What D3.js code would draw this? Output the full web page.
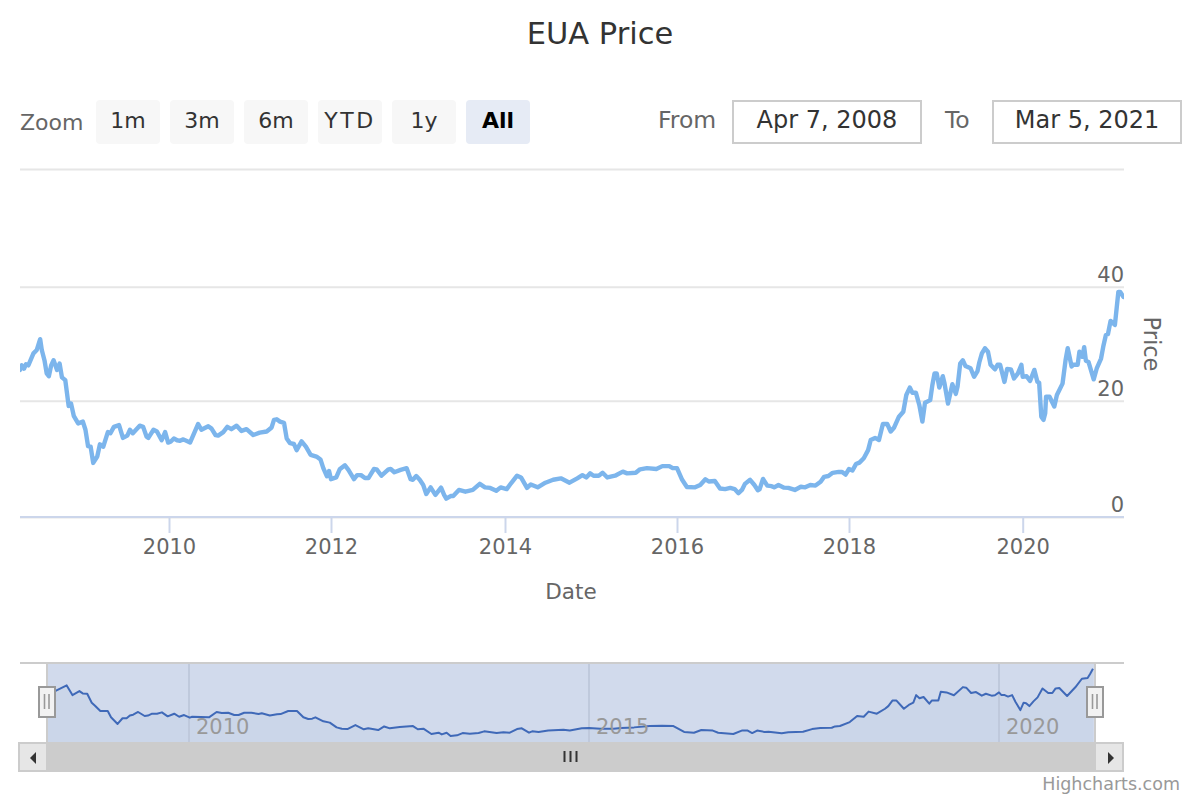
<!DOCTYPE html>
<html>
<head>
<meta charset="utf-8">
<script src="https://d3js.org/d3.v7.min.js"></script>
<style>
  html, body { margin: 0; background: #fff; }
  svg { display: block; font-family: "DejaVu Sans", sans-serif; }
</style>
</head>
<body>
<svg id="chart" width="1200" height="800"></svg>
<script>
// main series, dates as decimal years
var years = [2008.27,2008.29,2008.316,2008.34,2008.367,2008.426,2008.465,2008.504,2008.523,2008.554,2008.58,2008.605,2008.632,2008.66,2008.70,2008.73,2008.757,2008.796,2008.835,2008.863,2008.894,2008.945,2009.0,2009.03,2009.06,2009.09,2009.12,2009.167,2009.198,2009.237,2009.29,2009.32,2009.36,2009.42,2009.465,2009.516,2009.547,2009.58,2009.66,2009.70,2009.74,2009.76,2009.82,2009.86,2009.915,2009.955,2009.99,
  2010.02,2010.06,2010.10,2010.136,2010.177,2010.26,2010.36,2010.40,2010.485,2010.525,2010.574,2010.607,2010.67,2010.72,2010.77,2010.835,2010.895,2010.957,2011.04,2011.12,2011.206,2011.267,2011.296,2011.33,2011.37,2011.42,2011.453,2011.494,2011.543,2011.576,2011.637,2011.69,2011.749,2011.82,2011.87,2011.905,2011.95,2011.976,
  2012.0,2012.06,2012.10,2012.16,2012.2,2012.264,2012.30,2012.345,2012.39,2012.43,2012.494,2012.525,2012.58,2012.66,2012.686,2012.728,2012.80,2012.87,2012.915,2012.94,2012.98,2013.02,2013.06,2013.095,2013.145,2013.20,2013.265,2013.30,2013.325,2013.375,2013.405,2013.47,2013.545,2013.63,2013.71,2013.77,2013.83,2013.90,2013.95,
  2014.02,2014.07,2014.14,2014.186,2014.256,2014.30,2014.38,2014.47,2014.56,2014.65,2014.75,2014.84,2014.90,2014.945,2014.99,2015.03,2015.09,2015.135,2015.19,2015.28,2015.37,2015.42,2015.52,2015.57,2015.65,2015.76,2015.83,2015.91,2015.95,
  2016.0,2016.06,2016.115,2016.21,2016.27,2016.33,2016.37,2016.44,2016.50,2016.56,2016.62,2016.67,2016.715,2016.755,2016.79,2016.85,2016.90,2016.94,2016.96,2017.0,2017.05,2017.10,2017.13,2017.18,2017.245,2017.295,2017.37,2017.44,2017.49,2017.55,2017.61,2017.67,2017.71,2017.76,2017.81,2017.88,2017.92,2017.96,
  2018.0,2018.04,2018.08,2018.12,2018.17,2018.22,2018.25,2018.30,2018.345,2018.39,2018.44,2018.48,2018.52,2018.575,2018.625,2018.66,2018.70,2018.73,2018.77,2018.81,2018.845,2018.875,2018.935,2018.96,2018.985,2019.01,2019.04,2019.08,2019.10,2019.14,2019.19,2019.23,2019.25,2019.28,2019.31,2019.34,2019.40,2019.44,2019.48,2019.50,2019.53,2019.565,2019.60,2019.63,2019.68,2019.71,2019.74,2019.79,2019.82,2019.865,2019.90,2019.945,2019.985,
  2020.0,2020.045,2020.085,2020.135,2020.17,2020.19,2020.215,2020.24,2020.26,2020.27,2020.31,2020.365,2020.395,2020.46,2020.495,2020.52,2020.565,2020.585,2020.635,2020.655,2020.69,2020.71,2020.73,2020.76,2020.82,2020.855,2020.905,2020.93,2020.96,2020.985,2021.015,2021.065,2021.105,2021.125,2021.165];
var prices = [25.4,26.2,25.6,26.4,26.2,28.3,28.9,30.8,28.9,27.1,24.8,24.3,26.2,27.1,25.4,26.5,24.1,23.6,19.1,19.5,17.4,16.1,16.4,15,12.2,12.1,9.3,10.4,12.5,12.1,14.6,14.4,15.5,15.8,13.6,14,15,14.4,15.7,15.5,13.8,13.6,15,14.7,13.2,14.6,12.8,
  12.95,13.5,13.2,13.1,13.35,12.8,16,15,15.6,15.2,14.1,14,14.6,15.5,15.1,15.7,14.8,15.1,14.1,14.5,14.7,15.4,16.7,16.8,16.4,16.2,13.5,12.7,12.55,11.5,13,12.1,10.7,10.4,9.9,8.4,7,7.9,
  6.5,6.8,8.2,8.9,8.1,6.5,7.2,7.2,6.7,6.7,8.25,8.2,7.1,8.2,8.25,7.7,8.1,8.4,6.5,6.4,7.05,6.4,5.5,3.95,5.1,3.8,5.05,3.8,3.15,3.6,3.6,4.65,4.35,4.65,5.7,5.1,5,4.5,5.1,
  4.8,5.8,7.1,6.8,5,5.6,5.1,5.9,6.4,6.65,5.9,6.65,7.2,6.8,7.5,7.1,7.1,7.6,6.8,7.1,7.8,7.5,7.6,8.2,8.4,8.25,8.75,8.75,8.4,
  8.4,6.4,5.15,5.1,5.5,6.5,6.1,6.2,4.9,4.8,5,4.8,4.1,4.65,5.7,6.4,5.5,4.6,4.75,6.55,5.4,5.3,5.1,5.5,5.05,5,4.65,5.2,5.1,5.5,5.4,6.05,6.9,7.05,7.6,7.75,7.75,7.3,
  8.25,8,9.1,9.35,10.1,11.5,13.25,13.6,13.25,16,16,14.7,15.4,17.25,18.1,21,22.3,21.4,21.4,19.25,16.4,19.65,20.1,22.75,24.8,24.8,22.3,24.3,23,19.5,22.9,21.2,22.5,26.5,27.1,26.1,25.7,24.2,25.2,26.7,28.3,29.2,28.6,26.3,25.5,26.3,26.3,23.3,25.55,25.5,23.9,24.8,26.3,
  24.2,24.3,23.45,25.4,23.3,23.15,17.25,16.7,17.85,20.7,20.7,19,21,23,27.1,29.2,26,26.3,26.3,28.6,27.7,29.4,27,26.8,23.75,25.65,27.4,29.45,31.5,31.7,34,33.3,39.1,39.1,38.2];

// navigator series is the grouped (smoother) version
var navYears = [2008.27,2008.38,2008.51,2008.58,2008.665,2008.705,2008.76,2008.815,2008.855,2008.92,2009.01,2009.05,2009.13,2009.19,2009.24,2009.28,2009.32,2009.38,2009.46,2009.50,2009.55,2009.61,2009.67,2009.74,2009.82,2009.88,2009.94,2010.01,2010.04,2010.25,2010.345,2010.41,2010.49,2010.565,2010.62,2010.69,2010.78,2010.87,2010.91,2011.01,2011.10,2011.145,2011.24,2011.35,2011.43,2011.49,2011.54,2011.58,2011.68,2011.76,2011.845,2011.91,2011.98,2012.08,2012.185,2012.24,2012.365,2012.44,2012.51,2012.635,
  2012.80,2012.86,2012.93,2013.03,2013.12,2013.16,2013.22,2013.27,2013.35,2013.42,2013.51,2013.62,2013.69,2013.845,2013.93,2014.01,2014.10,2014.16,2014.25,2014.29,2014.37,2014.49,2014.68,2014.76,2014.91,2015.0,2015.14,2015.30,2015.39,2015.55,2015.74,2015.89,2016.03,2016.16,2016.28,2016.37,2016.51,2016.575,2016.76,2016.87,2016.93,2016.99,2017.05,2017.14,
  2017.19,2017.35,2017.43,2017.61,2017.72,2017.82,2017.96,2018.0,2018.06,2018.18,2018.27,2018.35,2018.41,2018.51,2018.61,2018.65,2018.70,2018.75,2018.84,2018.90,2018.955,2018.99,2019.03,2019.08,2019.15,2019.18,2019.26,2019.29,2019.36,2019.45,2019.56,2019.60,2019.66,2019.72,2019.79,2019.84,2019.91,2019.95,2020.0,2020.03,2020.07,2020.11,2020.16,2020.20,2020.26,2020.30,2020.33,2020.37,2020.42,2020.47,2020.53,2020.60,2020.65,2020.69,2020.735,2020.83,2020.93,2021.01,2021.08,2021.11,2021.145];
var navPrices = [26,27,29.8,24.7,26.8,25.6,25.4,20.7,19.1,16.3,16.3,13,9.5,12.5,12.5,14,14.4,15.8,13.7,13.9,14.9,14.9,15.6,13.5,14.9,13.3,14.2,12.8,13.3,13,15.8,15.3,15.4,14.2,14.2,15.4,15.4,14.7,15.1,14,14.6,14.7,16.3,16.3,13,12.1,12.3,13,10.9,10.2,7.7,7,6.8,8.9,6.7,7.2,6.3,8.2,7.2,7.9,
  8.4,6.7,7,4.2,4.9,4,4.9,3.2,3.5,4.7,4.4,4.7,5.6,4.7,5.1,4.9,6.8,7.2,4.9,5.6,5.3,6.1,6.5,6,7.2,7.4,7,7,7.4,7.7,8.4,8.6,8.4,5.3,4.9,6.3,6,4.9,4.2,6.1,6.1,4.7,6,5.3,
  5.4,4.6,5.1,5.4,6.8,7.4,7.5,8.2,8.4,10.5,13.7,13.3,16,14.9,17.5,18.9,21.8,21.8,17.5,19.5,20.7,24.7,23,23.7,20.2,21.8,21.9,26.5,26.1,24.6,28.9,28.6,25.8,26.3,24.4,25.4,24.4,24.6,26.1,24.7,24.7,23.9,24.7,21.2,16.8,20.7,20.4,18.9,21.4,23.5,28.2,25.8,25.8,28.2,28.4,24.2,28.8,33.3,33.7,35.8,38.6];

var xTicks = [2010, 2012, 2014, 2016, 2018, 2020];
var yTicks = [0, 20, 40, 60];
var yLabels = ["0", "20", "40", ""];
var navTicks = [2010, 2015, 2020];
var zoomLabels = ["1m", "3m", "6m", "YTD", "1y", "All"];
var activeZoom = "All";
var fromDate = "Apr 7, 2008";
var toDate = "Mar 5, 2021";

var svg = d3.select("#chart");

// the stock axis is ordinal so ticks are not evenly spaced
var x = d3.scaleLinear()
  .domain([2008.27, 2010, 2012, 2014, 2016, 2018, 2020, 2021.17])
  .range([20, 169, 331, 505, 677, 849, 1022.7, 1124]);
var y = d3.scaleLinear()
  .domain([0, 20, 40, 60])
  .range([517, 400.7, 286.7, 169]);
var navX = d3.scaleLinear()
  .domain([2008.27, 2010, 2015, 2020, 2021.17])
  .range([47, 189, 589, 999, 1095]);
var navY = d3.scaleLinear().domain([0, 41.6]).range([742, 663]);

// title
svg.append("text").attr("x", 600).attr("y", 44).attr("text-anchor", "middle")
  .attr("font-size", 30.5).attr("fill", "#333").text("EUA Price");

// range selector
svg.append("text").attr("x", 20).attr("y", 130).attr("font-size", 22)
  .attr("fill", "#666").text("Zoom");

var btnX = d3.scaleBand().domain(zoomLabels).range([96, 540]).paddingInner(0);
var btn = svg.selectAll("g.btn").data(zoomLabels).enter().append("g")
  .attr("class", "btn")
  .attr("transform", d => "translate(" + btnX(d) + ",100)");
btn.append("rect").attr("width", 64).attr("height", 44).attr("rx", 4)
  .attr("fill", d => d == activeZoom ? "#e6ebf5" : "#f7f7f7");
btn.append("text").attr("x", 32).attr("y", 28).attr("text-anchor", "middle")
  .attr("font-size", 22)
  .attr("letter-spacing", d => d == "YTD" ? 2.6 : 0)
  .attr("font-weight", d => d == activeZoom ? "bold" : "normal")
  .attr("fill", d => d == activeZoom ? "#000" : "#333")
  .text(d => d);

function dateBox(label, labelX, boxX, value) {
  svg.append("text").attr("x", labelX).attr("y", 128).attr("font-size", 23.5)
    .attr("fill", "#666").text(label);
  svg.append("rect").attr("x", boxX).attr("y", 101).attr("width", 188).attr("height", 42)
    .attr("fill", "#fff").attr("stroke", "#ccc").attr("stroke-width", 2);
  svg.append("text").attr("x", boxX + 94).attr("y", 128).attr("text-anchor", "middle")
    .attr("font-size", 24).attr("fill", "#333").text(value);
}
dateBox("From", 658, 733, fromDate);
dateBox("To", 945, 993, toDate);

// y grid and labels
var yAxis = d3.axisRight(y).tickValues(yTicks).tickSize(-1104)
  .tickFormat((d, i) => yLabels[i]);
var yG = svg.append("g").attr("transform", "translate(1124,0)").call(yAxis);
yG.select(".domain").remove();
yG.selectAll("line").attr("stroke", "#e6e6e6").attr("stroke-width", 2);
yG.selectAll("text").attr("x", 0).attr("dy", -5.5).attr("text-anchor", "end")
  .attr("font-family", "DejaVu Sans").attr("font-size", 21).attr("fill", "#666");

// x axis
var xAxis = d3.axisBottom(x).tickValues(xTicks).tickSize(16).tickPadding(6)
  .tickFormat(d3.format("d"));
var xG = svg.append("g").attr("transform", "translate(0,517)").call(xAxis);
xG.select(".domain").attr("d", "M20,0H1124").attr("stroke", "#ccd6eb").attr("stroke-width", 2);
xG.selectAll("line").attr("stroke", "#ccd6eb").attr("stroke-width", 2);
xG.selectAll("text").attr("font-family", "DejaVu Sans").attr("font-size", 21).attr("fill", "#666");

svg.append("text").attr("x", 571).attr("y", 599).attr("text-anchor", "middle")
  .attr("font-size", 21.5).attr("fill", "#666").text("Date");
svg.append("text").attr("transform", "translate(1144,344) rotate(90)")
  .attr("text-anchor", "middle").attr("font-size", 22.5).attr("fill", "#666").text("Price");

// price line
svg.append("clipPath").attr("id", "plotClip").append("rect")
  .attr("x", 20).attr("y", 160).attr("width", 1104).attr("height", 360);
var priceLine = d3.line().x((d, i) => x(years[i])).y(d => y(d));
svg.append("path").datum(prices)
  .attr("clip-path", "url(#plotClip)")
  .attr("d", priceLine)
  .attr("fill", "none").attr("stroke", "#7cb5ec").attr("stroke-width", 4.4)
  .attr("stroke-linejoin", "round").attr("stroke-linecap", "round");

// navigator
svg.append("line").attr("x1", 20).attr("x2", 1124).attr("y1", 663).attr("y2", 663)
  .attr("stroke", "#ccc").attr("stroke-width", 2);
svg.append("rect").attr("x", 47).attr("y", 664).attr("width", 1048).attr("height", 78)
  .attr("fill", "#d1daec");
var navArea = d3.area().x((d, i) => navX(navYears[i])).y0(742).y1(d => navY(d));
svg.append("path").datum(navPrices).attr("d", navArea)
  .attr("fill", "#cbd6e9");
svg.selectAll("line.navGrid").data(navTicks).enter().append("line")
  .attr("class", "navGrid")
  .attr("x1", d => navX(d)).attr("x2", d => navX(d)).attr("y1", 664).attr("y2", 742)
  .attr("stroke", "#bfc9dc").attr("stroke-width", 2);
var navLine = d3.line().x((d, i) => navX(navYears[i])).y(d => navY(d));
svg.append("path").datum(navPrices).attr("d", navLine)
  .attr("fill", "none").attr("stroke", "#3f69b8").attr("stroke-width", 2)
  .attr("stroke-linejoin", "round");
svg.selectAll("text.navLabel").data(navTicks).enter().append("text")
  .attr("class", "navLabel")
  .attr("x", d => navX(d) + 7).attr("y", 734)
  .attr("font-size", 21).attr("fill", "#999").text(d => d);
[47, 1095].forEach(function (hx) {
  svg.append("line").attr("x1", hx).attr("x2", hx).attr("y1", 664).attr("y2", 742)
    .attr("stroke", "#ccc").attr("stroke-width", 2);
});

// navigator handles
[47, 1095].forEach(function (hx) {
  svg.append("rect").attr("x", hx - 8).attr("y", 687).attr("width", 16).attr("height", 30)
    .attr("fill", "#f2f2f2").attr("stroke", "#999").attr("stroke-width", 2);
  [-2.5, 2].forEach(function (off) {
    svg.append("line").attr("x1", hx + off).attr("x2", hx + off).attr("y1", 694).attr("y2", 709)
      .attr("stroke", "#999").attr("stroke-width", 1.6);
  });
});

// scrollbar
svg.append("rect").attr("x", 18).attr("y", 742).attr("width", 1106).attr("height", 30)
  .attr("fill", "#ccc");
svg.append("rect").attr("x", 20).attr("y", 744).attr("width", 26).attr("height", 26)
  .attr("fill", "#e6e6e6");
svg.append("rect").attr("x", 1096).attr("y", 744).attr("width", 26).attr("height", 26)
  .attr("fill", "#e6e6e6");
svg.append("path").attr("d", "M36,752V764L30,758Z").attr("fill", "#333");
svg.append("path").attr("d", "M1108,752V764L1114,758Z").attr("fill", "#333");
[564.5, 570.5, 576.5].forEach(function (gx) {
  svg.append("line").attr("x1", gx).attr("x2", gx).attr("y1", 751).attr("y2", 762)
    .attr("stroke", "#333").attr("stroke-width", 2);
});

// credits
svg.append("text").attr("x", 1180).attr("y", 789.5).attr("text-anchor", "end")
  .attr("font-size", 17.5).attr("fill", "#999").text("Highcharts.com");
</script>
</body>
</html>
